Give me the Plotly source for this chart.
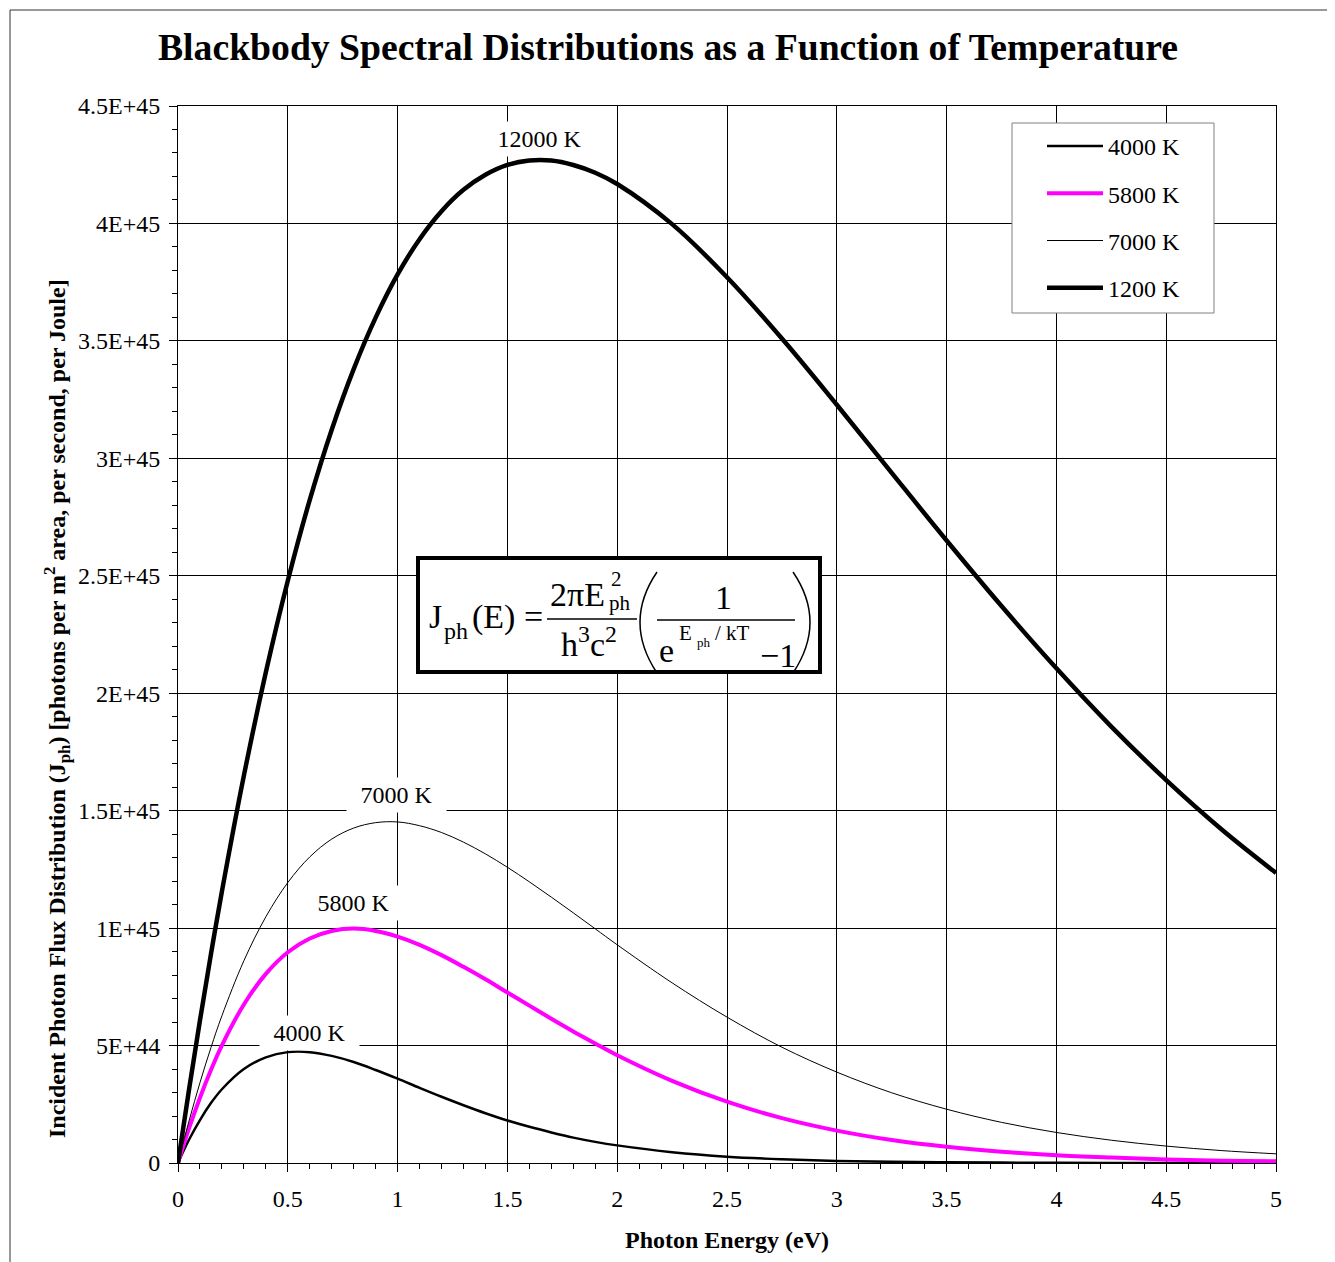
import plotly.graph_objects as go

# Photon energy (eV) and photon flux values (units of 1E+45)
energy = [0, 0.05, 0.1, 0.15, 0.2, 0.3, 0.4, 0.5, 0.6, 0.7, 0.8, 0.9, 1.0,
          1.1, 1.2, 1.3, 1.4, 1.5, 1.6, 1.7, 1.8, 1.9, 2.0, 2.25, 2.5, 2.75,
          3.0, 3.25, 3.5, 3.75, 4.0, 4.25, 4.5, 4.75, 5.0]

flux_4000 = [0, 0.099, 0.183, 0.255, 0.314, 0.400, 0.450, 0.472, 0.472, 0.456,
             0.430, 0.396, 0.359, 0.320, 0.282, 0.246, 0.212, 0.181, 0.154,
             0.130, 0.108, 0.090, 0.075, 0.046, 0.027, 0.016, 0.009, 0.005,
             0.003, 0.0016, 0.0009, 0.0005, 0.0003, 0.0001, 0.0001]
flux_5800 = [0, 0.147, 0.278, 0.396, 0.501, 0.675, 0.805, 0.897, 0.956, 0.988,
             0.998, 0.988, 0.964, 0.929, 0.885, 0.835, 0.782, 0.726, 0.670,
             0.614, 0.560, 0.509, 0.459, 0.350, 0.261, 0.191, 0.138, 0.098,
             0.069, 0.048, 0.033, 0.023, 0.015, 0.010, 0.007]
flux_7000 = [0, 0.178, 0.342, 0.491, 0.627, 0.861, 1.048, 1.194, 1.303, 1.379,
             1.426, 1.449, 1.452, 1.436, 1.407, 1.366, 1.316, 1.259, 1.197,
             1.132, 1.065, 0.997, 0.929, 0.767, 0.621, 0.493, 0.387, 0.299,
             0.229, 0.173, 0.130, 0.097, 0.072, 0.053, 0.039]
flux_12000 = [0, 0.311, 0.607, 0.889, 1.156, 1.649, 2.089, 2.479, 2.823, 3.122,
              3.380, 3.599, 3.783, 3.933, 4.052, 4.143, 4.207, 4.249, 4.268,
              4.268, 4.249, 4.216, 4.168, 3.997, 3.771, 3.510, 3.228, 2.938,
              2.650, 2.371, 2.106, 1.858, 1.630, 1.422, 1.235]

series_names = ["4000 K", "5800 K", "7000 K", "1200 K"]
curve_labels = ["4000 K", "5800 K", "7000 K", "12000 K"]

y_ticks = [0, 0.5e45, 1e45, 1.5e45, 2e45, 2.5e45, 3e45, 3.5e45, 4e45, 4.5e45]
y_tick_text = ["0", "5E+44", "1E+45", "1.5E+45", "2E+45", "2.5E+45", "3E+45",
               "3.5E+45", "4E+45", "4.5E+45"]

FONT = "Liberation Serif"

# the page puts the figure 8px in from the top-left corner
OFF = 8
W, H = 1335 - OFF, 1262 - OFF
# plot area in page pixels
L, R, T, B = 178, 1276, 106, 1163


def px(X):
    return (X - L) / (R - L)


def py(Y):
    return (B - Y) / (B - T)


fig = go.Figure()

styles = [
    dict(color="black", width=2.5),
    dict(color="#FF00FF", width=4),
    dict(color="black", width=1),
    dict(color="black", width=4.5),
]
for name, vals, st in zip(series_names,
                          [flux_4000, flux_5800, flux_7000, flux_12000],
                          styles):
    fig.add_trace(go.Scatter(
        x=energy, y=[v * 1e45 for v in vals],
        mode="lines", name=name, legendgroup=name,
        line=dict(color=st["color"], width=st["width"], shape="spline",
                  smoothing=1),
    ))

# curve labels with white boxes that break the grid
label_pos = [(0.597, 0.553e45), (0.801, 1.107e45), (0.997, 1.567e45),
             (1.648, 4.359e45)]
for txt, (lx, ly) in zip(curve_labels, label_pos):
    fig.add_annotation(x=lx, y=ly, text=txt, showarrow=False,
                       font=dict(family=FONT, size=24, color="black"),
                       bgcolor="white", width=97, height=32)

# y axis title
fig.add_annotation(
    xref="paper", yref="paper", x=px(57), y=py(709), textangle=-90,
    xanchor="center", yanchor="middle",
    text="<b>Incident Photon Flux Distribution (J<sub>ph</sub>) "
         "[photons per m<sup>2</sup> area, per second, per Joule]</b>",
    showarrow=False, font=dict(family=FONT, size=24, color="black"))

# legend frame (legend itself has no border so the lines can sit inset)
fig.add_shape(type="rect", xref="paper", yref="paper",
              x0=px(1012), x1=px(1214), y0=py(313), y1=py(123),
              line=dict(color="#808080", width=1), fillcolor="white",
              layer="above")

# formula box
fig.add_shape(type="rect", xref="paper", yref="paper",
              x0=px(418), x1=px(820), y0=py(672), y1=py(558),
              line=dict(color="black", width=4), fillcolor="white",
              layer="above")
eq_parts = [
    ("J", 427, 616, 34, "left"),
    ("ph", 442, 631, 24, "left"),
    ("(E) =", 470, 617, 34, "left"),
    ("2πE", 548, 594, 34, "left"),
    ("2", 609, 579, 21, "left"),
    ("ph", 607, 603, 21, "left"),
    ("h<sup>3</sup>c<sup>2</sup>", 589, 642, 34, "center"),
    ("1", 723, 597, 34, "center"),
    ("e", 657, 650, 34, "left"),
    ("E", 677, 633, 21, "left"),
    ("ph", 695, 642, 13, "left"),
    ("/ kT", 713, 633, 21, "left"),
    ("−1", 758, 655, 34, "left"),
]
for txt, X, Y, size, anchor in eq_parts:
    fig.add_annotation(xref="paper", yref="paper", x=px(X), y=py(Y),
                       text=txt, showarrow=False, xanchor=anchor,
                       yanchor="middle",
                       font=dict(family=FONT, size=size, color="black"))
for x0, x1, yy in [(547, 637, 619), (657, 795, 620)]:
    fig.add_shape(type="line", xref="paper", yref="paper",
                  x0=px(x0), x1=px(x1), y0=py(yy), y1=py(yy),
                  line=dict(color="black", width=1.5), layer="above")
for a, c in [(657, 623), (793, 827)]:
    fig.add_shape(type="path", xref="paper", yref="paper",
                  path=f"M {px(a)},{py(572)} Q {px(c)},{py(622)} {px(a)},{py(673)}",
                  line=dict(color="black", width=1.5), layer="above")

# outer chart frame
fig.add_shape(type="rect", xref="paper", yref="paper",
              x0=px(10), x1=px(1333), y0=py(1280), y1=py(10),
              line=dict(color="#333333", width=1))

fig.update_xaxes(
    range=[0, 5], dtick=0.5, tick0=0,
    showgrid=True, gridcolor="black", gridwidth=1,
    showline=True, linecolor="black", linewidth=1, mirror=True,
    zeroline=False,
    ticks="outside", ticklen=8, tickcolor="black", ticklabelstandoff=6,
    minor=dict(dtick=0.1, ticks="outside", ticklen=5, tickcolor="black",
               showgrid=False),
    tickfont=dict(family=FONT, size=24, color="black"),
    title=dict(text="<b>Photon Energy (eV)</b>", standoff=20,
               font=dict(family=FONT, size=24, color="black")),
)
fig.update_yaxes(
    range=[0, 4.5e45], tickvals=y_ticks, ticktext=y_tick_text,
    showgrid=True, gridcolor="black", gridwidth=1,
    showline=True, linecolor="black", linewidth=1, mirror=True,
    zeroline=False,
    ticks="outside", ticklen=8, tickcolor="black", ticklabelstandoff=4,
    minor=dict(dtick=1e44, ticks="outside", ticklen=5, tickcolor="black",
               showgrid=False),
    tickfont=dict(family=FONT, size=24, color="black"),
)

fig.update_layout(
    width=W, height=H,
    margin=dict(l=L - OFF, r=W - (R - OFF), t=T - OFF, b=H - (B - OFF),
                autoexpand=False),
    paper_bgcolor="white", plot_bgcolor="white",
    title=dict(text="<b>Blackbody Spectral Distributions as a Function of Temperature</b>",
               x=(668 - OFF) / W, xanchor="center",
               y=1 - (47 - OFF) / H, yanchor="middle",
               font=dict(family=FONT, size=37.7, color="black")),
    legend=dict(x=px(1042), y=py(124), xanchor="left", yanchor="top",
                bgcolor="rgba(0,0,0,0)", borderwidth=0,
                font=dict(family=FONT, size=24, color="black"),
                tracegroupgap=13, itemwidth=56),
    showlegend=True,
)

fig.write_html("out.html")
